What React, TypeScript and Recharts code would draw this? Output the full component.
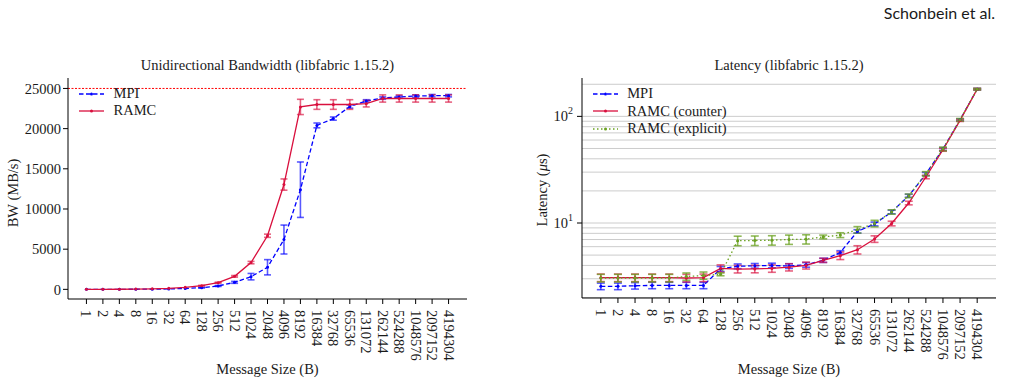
import { LineChart, Line, XAxis, YAxis, ErrorBar, ReferenceLine } from "recharts";

// message sizes in bytes (categorical x axis)
const sizes = [
  "1", "2", "4", "8", "16", "32", "64", "128", "256", "512", "1024", "2048",
  "4096", "8192", "16384", "32768", "65536", "131072", "262144", "524288",
  "1048576", "2097152", "4194304",
];

// unidirectional bandwidth (MB/s)
const bwMpi = [2, 4, 7, 14, 28, 55, 105, 210, 420, 870, 1580, 2750, 6200, 12400, 20400, 21250, 22750, 23450, 23800, 23950, 24050, 24100, 24100];
const bwMpiErr = [0, 0, 0, 0, 0, 0, 0, 40, 60, 120, 400, 950, 1800, 3450, 300, 200, 200, 150, 150, 150, 150, 150, 150];
const bwRamc = [4, 8, 16, 31, 62, 125, 250, 460, 830, 1620, 3330, 6670, 13040, 22700, 23000, 23000, 23000, 23100, 23750, 23750, 23750, 23750, 23750];
const bwRamcErr = [0, 0, 0, 0, 0, 0, 0, 40, 60, 100, 150, 200, 700, 950, 600, 600, 600, 400, 450, 450, 450, 450, 450];
const linkLimit = 25000;

// latency (us)
const latMpi = [2.55, 2.55, 2.58, 2.6, 2.6, 2.6, 2.6, 3.71, 3.93, 3.97, 4.0, 3.95, 4.05, 4.47, 5.3, 8.34, 9.8, 12.7, 18.0, 28.8, 49.4, 92.9, 180];
const latMpiErr = [0.18, 0.18, 0.18, 0.18, 0.18, 0.18, 0.18, 0.2, 0.2, 0.2, 0.2, 0.2, 0.2, 0.2, 0.2, 0.3, 0.4, 0.5, 0.6, 1, 1.5, 2, 3];
const latCounter = [3.07, 3.07, 3.07, 3.07, 3.07, 3.05, 3.07, 3.75, 3.7, 3.71, 3.75, 3.85, 4.0, 4.47, 4.94, 5.62, 7.08, 9.9, 15.4, 27, 48.6, 91.6, 180];
const latCounterErr = [0.25, 0.25, 0.25, 0.25, 0.25, 0.25, 0.25, 0.3, 0.3, 0.3, 0.3, 0.3, 0.3, 0.2, 0.4, 0.5, 0.5, 0.5, 0.6, 1, 1.5, 2, 3];
const latExplicit = [3.05, 3.05, 3.05, 3.05, 3.05, 3.15, 3.22, 3.3, 6.82, 6.85, 6.9, 7.0, 7.05, 7.4, 7.7, 8.65, 9.9, 12.7, 18.0, 29, 49.5, 93, 180];
const latExplicitErr = [0.25, 0.25, 0.25, 0.25, 0.25, 0.25, 0.25, 0.1, 0.7, 0.7, 0.7, 0.7, 0.7, 0.3, 0.4, 0.6, 0.7, 0.6, 0.7, 1.3, 2, 2.5, 3];

// log-scale grid values and labelled decades
const latGrid = [2, 3, 4, 5, 6, 7, 8, 9, 10, 20, 30, 40, 50, 60, 70, 80, 90, 100, 200];
const latTicks = [10, 100];
const bwTicks = [0, 5000, 10000, 15000, 20000, 25000];

const bwData = sizes.map((_, i) => ({
  i,
  mpi: bwMpi[i],
  mpiErr: bwMpiErr[i],
  ramc: bwRamc[i],
  ramcErr: bwRamcErr[i],
}));

const latData = sizes.map((_, i) => ({
  i,
  mpi: latMpi[i],
  mpiErr: latMpiErr[i],
  counter: latCounter[i],
  counterErr: latCounterErr[i],
  explicit: latExplicit[i],
  explicitErr: latExplicitErr[i],
}));

const serif = "'Liberation Serif', serif";
const ink = "#1a1a1a";
const fs = 14.5;

const BLUE = "#0000ff";
const RED = "#d90f3d";
const GREEN = "#6ba121";

const idx = sizes.map((_, i) => i);

function SizeTick({ x, y, payload }: any) {
  return (
    <text
      x={x}
      y={y}
      transform={`rotate(90, ${x}, ${y})`}
      textAnchor="start"
      dominantBaseline="central"
      fontSize={fs}
      fontFamily={serif}
      fill={ink}
    >
      {sizes[payload.value]}
    </text>
  );
}

function PowTick({ x, y, payload }: any) {
  const exp = Math.round(Math.log10(payload.value));
  return (
    <text x={x} y={y + 4.5} textAnchor="end" fontSize={fs} fontFamily={serif} fill={ink}>
      10
      <tspan dy={-6.5} fontSize={10}>
        {exp}
      </tspan>
    </text>
  );
}

type LegendItem = { label: string; color: string; dash?: string };

function LegendBox({ items, left, top, rowH }: { items: LegendItem[]; left: number; top: number; rowH: number }) {
  return (
    <div style={{ position: "absolute", left, top, fontFamily: serif, fontSize: fs, color: ink }}>
      {items.map((it) => (
        <div key={it.label} style={{ display: "flex", alignItems: "center", height: rowH }}>
          <svg width={25} height={10}>
            <line x1={0} y1={5} x2={25} y2={5} stroke={it.color} strokeWidth={1.3} strokeDasharray={it.dash} />
            <circle cx={12.5} cy={5} r={1.5} fill={it.color} />
          </svg>
          <span style={{ marginLeft: 9.5, whiteSpace: "nowrap" }}>{it.label}</span>
        </div>
      ))}
    </div>
  );
}

const textStyle = {
  position: "absolute" as const,
  fontFamily: serif,
  fontSize: fs,
  color: ink,
  whiteSpace: "nowrap" as const,
  lineHeight: "16px",
};

function BandwidthChart() {
  return (
    <div style={{ position: "absolute", left: 0, top: 0 }}>
      <LineChart width={480} height={383} data={bwData} margin={{ top: 78, right: 13, bottom: 0, left: 0 }}>
        <XAxis
          dataKey="i"
          type="number"
          domain={[-1.12, 23.12]}
          ticks={idx}
          interval={0}
          allowDataOverflow
          height={84}
          tickSize={5}
          tickMargin={6}
          tick={<SizeTick />}
          stroke="#000"
        />
        <XAxis xAxisId="top" orientation="top" type="number" domain={[0, 1]} height={0} tick={false} tickLine={false} stroke="#000" />
        <YAxis
          type="number"
          domain={[-1200, 26300]}
          ticks={bwTicks}
          allowDataOverflow
          width={68}
          tickSize={5}
          tickMargin={2}
          tick={{ fontSize: fs, fontFamily: serif, fill: ink }}
          stroke="#000"
        />
        <YAxis yAxisId="right" orientation="right" width={0} tick={false} tickLine={false} stroke="#000" />
        <ReferenceLine y={linkLimit} stroke="#ff0000" strokeDasharray="2 1.5" strokeWidth={1} />
        <Line dataKey="mpi" stroke={BLUE} strokeWidth={1.3} strokeDasharray="4.5 2.5" dot={{ r: 1.5, fill: BLUE, stroke: "none" }} activeDot={false} isAnimationActive={false}>
          <ErrorBar dataKey="mpiErr" direction="y" width={3.5} stroke={BLUE} strokeOpacity={0.65} strokeWidth={1.6} isAnimationActive={false} />
        </Line>
        <Line dataKey="ramc" stroke={RED} strokeWidth={1.3} dot={{ r: 1.5, fill: RED, stroke: "none" }} activeDot={false} isAnimationActive={false}>
          <ErrorBar dataKey="ramcErr" direction="y" width={3.5} stroke={RED} strokeOpacity={0.65} strokeWidth={1.6} isAnimationActive={false} />
        </Line>
      </LineChart>
      <div style={{ ...textStyle, left: 68, width: 399, top: 57, textAlign: "center" }}>
        Unidirectional Bandwidth (libfabric 1.15.2)
      </div>
      <div style={{ ...textStyle, left: 68, width: 399, top: 361, textAlign: "center" }}>Message Size (B)</div>
      <div style={{ ...textStyle, left: 12.5, top: 193, transform: "translate(-50%, -50%) rotate(-90deg)" }}>BW (MB/s)</div>
      <LegendBox
        left={79}
        top={85.6}
        rowH={16.7}
        items={[
          { label: "MPI", color: BLUE, dash: "4.5 2.5" },
          { label: "RAMC", color: RED },
        ]}
      />
    </div>
  );
}

function LatencyChart() {
  return (
    <div style={{ position: "absolute", left: 500, top: 0 }}>
      <LineChart width={511} height={383} data={latData} margin={{ top: 78, right: 15, bottom: 0, left: 0 }}>
        <XAxis
          dataKey="i"
          type="number"
          domain={[-1.1, 23.1]}
          ticks={idx}
          interval={0}
          allowDataOverflow
          height={85}
          tickSize={5}
          tickMargin={6}
          tick={<SizeTick />}
          stroke="#000"
        />
        <XAxis xAxisId="top" orientation="top" type="number" domain={[0, 1]} height={0} tick={false} tickLine={false} stroke="#000" />
        <YAxis
          type="number"
          scale="log"
          domain={[1.98, 229]}
          ticks={latTicks}
          allowDataOverflow
          width={82}
          tickSize={5}
          tickMargin={4}
          tick={<PowTick />}
          stroke="#000"
        />
        <YAxis yAxisId="right" orientation="right" width={0} tick={false} tickLine={false} stroke="#000" />
        {latGrid.map((v) => (
          <ReferenceLine key={v} y={v} stroke="#cccccc" strokeWidth={1} />
        ))}
        <Line dataKey="mpi" stroke={BLUE} strokeWidth={1.3} strokeDasharray="4.5 2.5" dot={{ r: 1.5, fill: BLUE, stroke: "none" }} activeDot={false} isAnimationActive={false}>
          <ErrorBar dataKey="mpiErr" direction="y" width={4} stroke={BLUE} strokeOpacity={0.65} strokeWidth={1.6} isAnimationActive={false} />
        </Line>
        <Line dataKey="counter" stroke={RED} strokeWidth={1.3} dot={{ r: 1.5, fill: RED, stroke: "none" }} activeDot={false} isAnimationActive={false}>
          <ErrorBar dataKey="counterErr" direction="y" width={4} stroke={RED} strokeOpacity={0.65} strokeWidth={1.6} isAnimationActive={false} />
        </Line>
        <Line dataKey="explicit" stroke={GREEN} strokeWidth={1.3} strokeDasharray="1.5 2.5" dot={{ r: 1.5, fill: GREEN, stroke: "none" }} activeDot={false} isAnimationActive={false}>
          <ErrorBar dataKey="explicitErr" direction="y" width={4} stroke={GREEN} strokeOpacity={0.75} strokeWidth={1.6} isAnimationActive={false} />
        </Line>
      </LineChart>
      <div style={{ ...textStyle, left: 82, width: 414, top: 57, textAlign: "center" }}>Latency (libfabric 1.15.2)</div>
      <div style={{ ...textStyle, left: 82, width: 414, top: 361, textAlign: "center" }}>Message Size (B)</div>
      <div style={{ ...textStyle, left: 41.7, top: 189.5, transform: "translate(-50%, -50%) rotate(-90deg)" }}>
        Latency (<i>μ</i>s)
      </div>
      <LegendBox
        left={92.7}
        top={85.2}
        rowH={17.5}
        items={[
          { label: "MPI", color: BLUE, dash: "4.5 2.5" },
          { label: "RAMC (counter)", color: RED },
          { label: "RAMC (explicit)", color: GREEN, dash: "1.5 2.5" },
        ]}
      />
    </div>
  );
}

export default function App() {
  return (
    <div style={{ position: "absolute", left: 0, top: 0, width: 1011, height: 383, background: "#fff", overflow: "hidden" }}>
      <div
        style={{
          position: "absolute",
          right: 16,
          top: 4,
          fontFamily: "Lato, 'Open Sans', sans-serif",
          fontSize: 16,
          lineHeight: "18px",
          color: ink,
        }}
      >
        Schonbein et al.
      </div>
      <BandwidthChart />
      <LatencyChart />
    </div>
  );
}
